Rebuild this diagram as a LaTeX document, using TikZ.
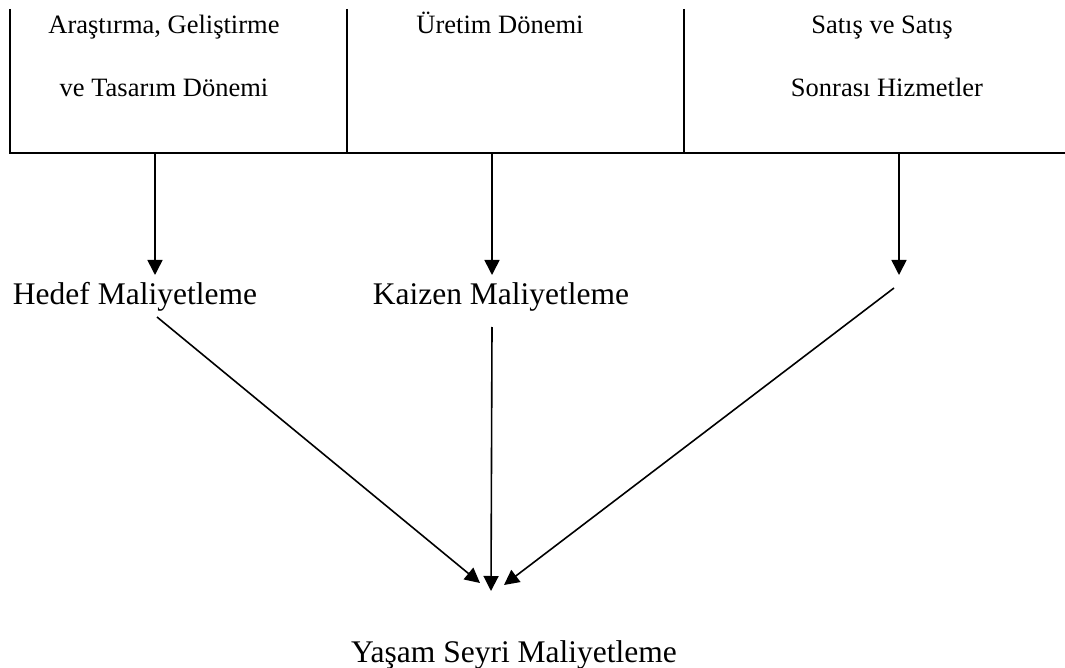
\documentclass[tikz,border=0pt]{standalone}
\usepackage{fontspec}
\setmainfont{Liberation Serif}
\usetikzlibrary{arrows.meta}

\tikzset{
    cell/.style={anchor=base, align=center, inner sep=0pt, font=\fontsize{26.5}{63}\selectfont},
    method/.style={anchor=base, inner sep=0pt, font=\fontsize{31.5}{36}\selectfont},
    arr/.style={-{Triangle[length=15pt,width=15pt]}, line width=1.6pt}
}

\begin{document}
\begin{tikzpicture}[x=1pt,y=-1pt, line width=1.6pt]
    \useasboundingbox (0,0) rectangle (1065,668);

    % Tablo
    \draw (10,9) -- (10,153) -- (1065,153);
    \draw (347,9) -- (347,153);
    \draw (684,9) -- (684,153);

    % Donemler (base = son satir)
    \node[cell] (arge) at (164,97) {Araştırma, Geliştirme\\ve Tasarım Dönemi};
    \node[cell] (uretim) at (500,34) {Üretim Dönemi};
    \node[cell] (satis) at (882,97) {Satış ve Satış\\\hspace*{10pt}Sonrası Hizmetler};

    % Maliyetleme yontemleri
    \node[method] (hedef) at (135,305) {Hedef Maliyetleme};
    \node[method] (kaizen) at (501,305) {Kaizen Maliyetleme};
    \node[method] (yasam) at (514,662) {Yaşam Seyri Maliyetleme};

    % Baglanti noktalari
    \coordinate (s1) at (155,153);
    \coordinate (s2) at (492,153);
    \coordinate (s3) at (899,153);
    \coordinate (e1) at (155,275);
    \coordinate (e2) at (492,275);
    \coordinate (e3) at (899,275);
    \coordinate (d1) at (157,317);
    \coordinate (d2) at (492,327);
    \coordinate (d3) at (894,288);
    \coordinate (y1) at (480,583);
    \coordinate (y2) at (491,591);
    \coordinate (y3) at (504,585);

    % Oklar
    \draw[arr] (s1) -- (e1);
    \draw[arr] (s2) -- (e2);
    \draw[arr] (s3) -- (e3);
    \draw[arr] (d1) -- (y1);
    \draw[arr] (d2) -- (y2);
    \draw[arr] (d3) -- (y3);
\end{tikzpicture}
\end{document}
